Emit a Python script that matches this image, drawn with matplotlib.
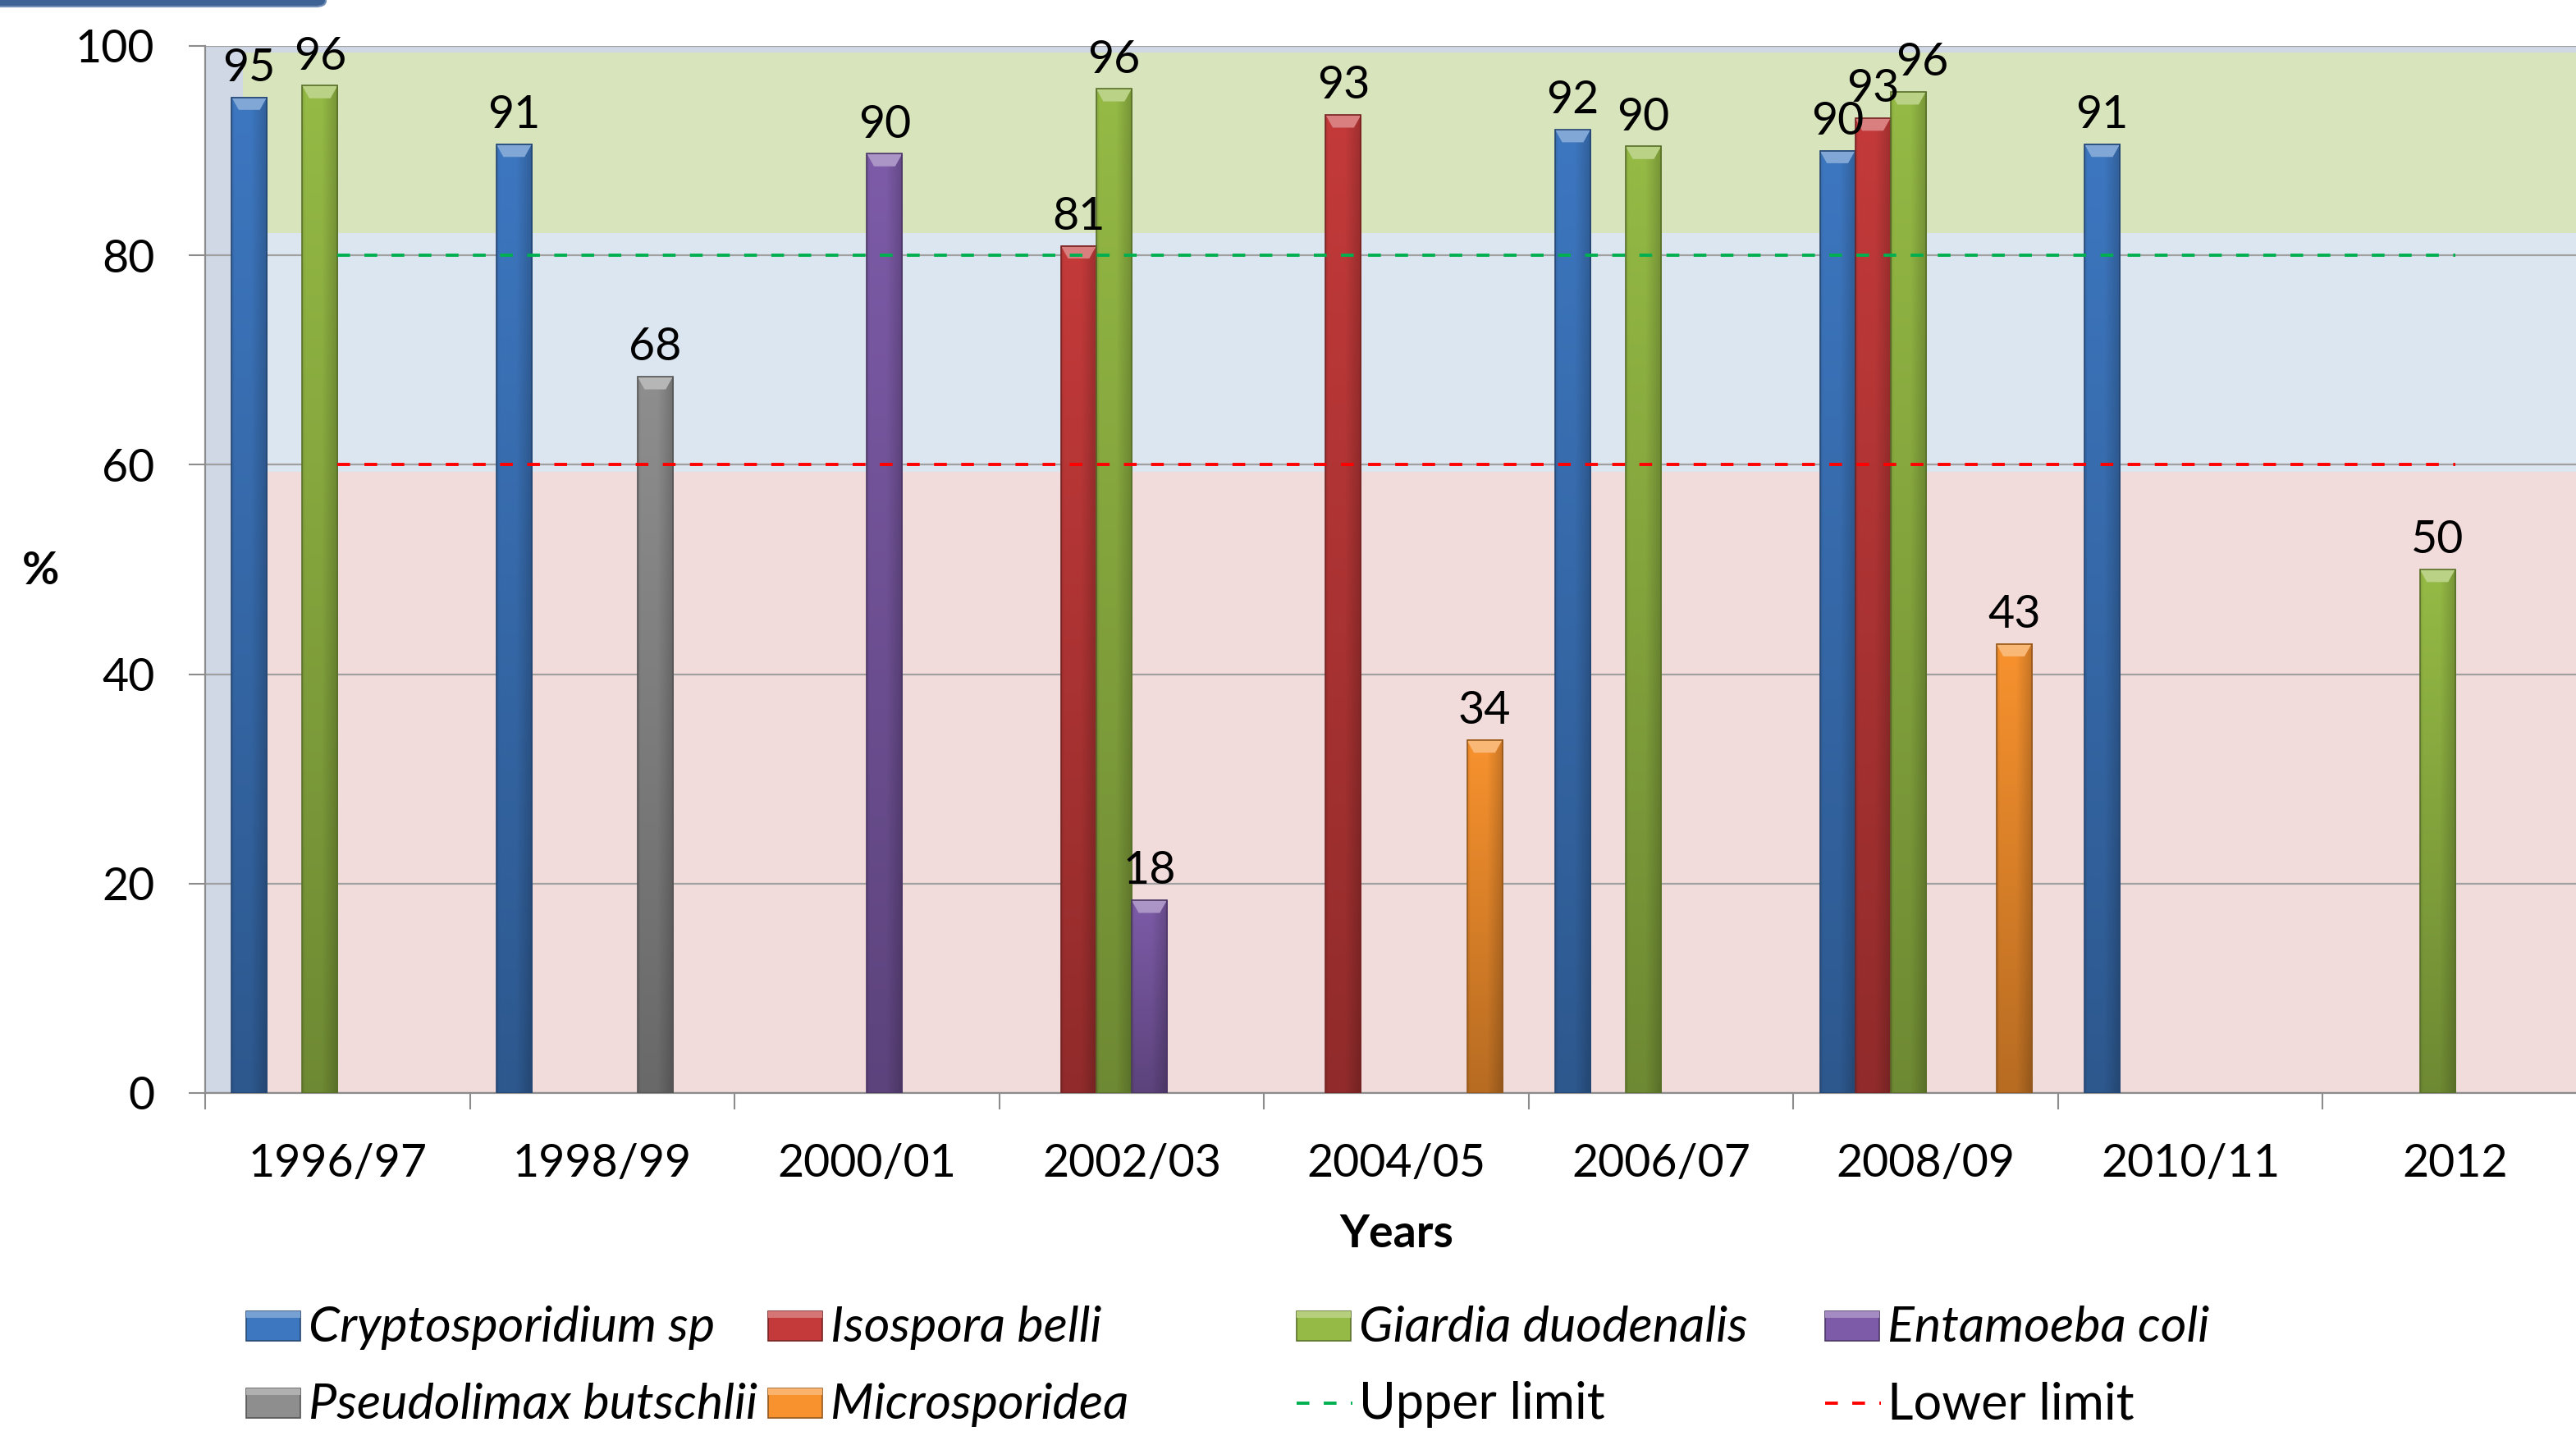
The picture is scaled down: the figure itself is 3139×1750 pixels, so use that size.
import numpy as np
import matplotlib
matplotlib.use("Agg")
import matplotlib.pyplot as plt
from matplotlib.patches import Rectangle, Polygon, FancyBboxPatch
from matplotlib.lines import Line2D
from matplotlib.colors import to_rgb

plt.rcParams['font.family'] = ['Lato', 'DejaVu Sans']

# data (nan = no bar)
nan = np.nan
years = ['1996/97', '1998/99', '2000/01', '2002/03', '2004/05',
         '2006/07', '2008/09', '2010/11', '2012']
cryptosporidium = [95.1, 90.6, nan, nan, nan, 92.0, 90.0, 90.6, nan]
isospora = [nan, nan, nan, 80.9, 93.4, nan, 93.1, nan, nan]
giardia = [96.2, nan, nan, 95.9, nan, 90.4, 95.6, nan, 50.0]
entamoeba = [nan, nan, 89.7, 18.4, nan, nan, nan, nan, nan]
pseudolimax = [nan, 68.4, nan, nan, nan, nan, nan, nan, nan]
microsporidea = [nan, nan, nan, nan, 33.7, nan, 42.9, nan, nan]
upper_limit = 80
lower_limit = 60

series = [
    ('Cryptosporidium sp', cryptosporidium, '#3D77C0'),
    ('Isospora belli', isospora, '#C43A3A'),
    ('Giardia duodenalis', giardia, '#95BA45'),
    ('Entamoeba coli', entamoeba, '#7D5BA8'),
    ('Pseudolimax butschlii', pseudolimax, '#8E8E8E'),
    ('Microsporidea', microsporidea, '#F8922E'),
]

# background bands (value ranges)
band_red = (0, 59.3, '#F2DCDB')
band_blue = (59.3, 82.1, '#DCE6F1')
band_green = (82.1, 99.4, '#D8E4BC')

# label nudges (series index, year index) -> points to the right, as in the original
label_nudge = {(2, 6): 12}

FS = 40
LEG_FS = 44
W, H = 3139, 1750


def shade(color, f):
    c = np.array(to_rgb(color))
    if f >= 1:
        return tuple(c + (1 - c) * (f - 1))
    return tuple(c * f)


def draw_bar(ax, rect, color):
    x0, w, h = rect.get_x(), rect.get_width(), rect.get_height()
    if not np.isfinite(h) or h <= 0:
        return
    base = np.array(to_rgb(color))
    xs = np.linspace(0, 1, 40)
    fx = 1.0 - 0.2 * np.clip((xs - 0.55) / 0.45, 0, 1) - 0.1 * np.clip((0.08 - xs) / 0.08, 0, 1)
    ys = np.linspace(0, 1, 120)
    fy = 0.74 + 0.26 * ys
    img = np.clip(base[None, None, :] * fy[:, None, None] * fx[None, :, None], 0, 1)
    ax.imshow(img, extent=(x0, x0 + w, 0, h), origin='lower', aspect='auto',
              interpolation='bilinear', zorder=3)
    bev = 1.2
    ax.add_patch(Polygon([(x0, h), (x0 + w, h), (x0 + 0.8 * w, h - bev), (x0 + 0.2 * w, h - bev)],
                         closed=True, facecolor=shade(color, 1.35), edgecolor='none', zorder=3.5))
    ax.add_patch(Rectangle((x0, 0), w, h, facecolor='none', edgecolor=shade(color, 0.6),
                           lw=1.2, zorder=3.6))


fig = plt.figure(figsize=(W / 100, H / 100), dpi=100)
ax = fig.add_axes([250 / W, 1 - 1332 / H, (3153 - 250) / W, (1332 - 56) / H])
ax.set_facecolor('#D0D8E6')

strip = 0.0158
for lo, hi, col in (band_red, band_blue, band_green):
    ax.axhspan(lo, hi, xmin=strip, xmax=1, color=col, lw=0, zorder=0.2)

x = np.arange(len(years))
n = len(series)
bw = 1 / (n + 1.5)
for k, (name, vals, col) in enumerate(series):
    pos = x - 0.5 + 0.75 * bw + (k + 0.5) * bw
    bars = ax.bar(pos, vals, width=bw, color='none', edgecolor='none', zorder=3)
    for i, (rect, v) in enumerate(zip(bars, vals)):
        if np.isfinite(v):
            draw_bar(ax, rect, col)
            ax.annotate(f'{v:.0f}', (rect.get_x() + bw / 2, v),
                        xytext=(label_nudge.get((k, i), 0), 7),
                        textcoords='offset points', ha='center', va='bottom',
                        fontsize=FS, zorder=6, annotation_clip=False)

dash = (4, 4.5)
ax.plot([x[0], x[-1]], [upper_limit, upper_limit], color='#00B050', lw=2.8,
        dashes=dash, zorder=5)
ax.plot([x[0], x[-1]], [lower_limit, lower_limit], color='#FF0000', lw=2.8,
        dashes=dash, zorder=5)

ax.set_xlim(-0.5, len(years) - 0.5)
ax.set_ylim(0, 100)
ax.set_yticks(range(0, 101, 20))
ax.yaxis.grid(True, color='#A0A0A0', lw=1.6, zorder=0.5)
ax.set_axisbelow(True)
ax.set_xticks(x)
ax.set_xticklabels(years)
ax.set_xticks(np.arange(len(years) + 1) - 0.5, minor=True)
ax.tick_params(axis='x', which='major', length=0, pad=44, labelsize=FS)
ax.tick_params(axis='x', which='minor', length=14.4, width=1.5, color='#8C8C8C')
ax.tick_params(axis='y', length=14.4, width=1.5, color='#8C8C8C', pad=30, labelsize=FS)
for s in ('top', 'right'):
    ax.spines[s].set_visible(False)
for s in ('left', 'bottom'):
    ax.spines[s].set_color('#8C8C8C')
    ax.spines[s].set_linewidth(1.6)

fig.text(0.5 * (250 + 3153) / W, 1 - 1504 / H, 'Years', ha='center', va='center',
         fontsize=FS, fontweight='bold')
fig.text(50 / W, 1 - 696 / H, '%', ha='center', va='center', fontsize=FS, fontweight='bold')

# legend, laid out like the original (4 columns x 2 rows)
legend_rows = [
    [('patch', series[0][0], series[0][2]), ('patch', series[1][0], series[1][2]),
     ('patch', series[2][0], series[2][2]), ('patch', series[3][0], series[3][2])],
    [('patch', series[4][0], series[4][2]), ('patch', series[5][0], series[5][2]),
     ('line', 'Upper limit', '#00B050'), ('line', 'Lower limit', '#FF0000')],
]
col_x = [300, 936, 1580, 2224]
row_y = [1616, 1710]
for r, row in enumerate(legend_rows):
    for c, (kind, label, col) in enumerate(row):
        x0 = col_x[c]
        yc = row_y[r]
        if kind == 'patch':
            fig.patches.append(Rectangle((x0 / W, 1 - (yc + 18) / H), 66 / W, 36 / H,
                                         transform=fig.transFigure, facecolor=col,
                                         edgecolor=shade(col, 0.6), lw=1.2))
            fig.patches.append(Rectangle((x0 / W, 1 - (yc - 10) / H), 66 / W, 8 / H,
                                         transform=fig.transFigure, facecolor=shade(col, 1.3),
                                         edgecolor='none'))
            style = 'italic'
        else:
            fig.lines.append(Line2D([x0 / W, (x0 + 68) / W], [1 - yc / H, 1 - yc / H],
                                    transform=fig.transFigure, color=col, lw=2.8,
                                    dashes=(4, 4.5)))
            style = 'normal'
        fig.text((x0 + 76) / W, 1 - (yc + 2) / H, label, ha='left', va='center',
                 fontsize=LEG_FS, fontstyle=style)

# piece of a header box at the top left
fig.patches.append(FancyBboxPatch((-20 / W, 1 - 8 / H), 417 / W, 30 / H,
                                  boxstyle='round,pad=0,rounding_size=0.004',
                                  transform=fig.transFigure, facecolor='#3E6496',
                                  edgecolor='#6F8DB5', lw=1.5))

fig.savefig('out.png', dpi=100)
